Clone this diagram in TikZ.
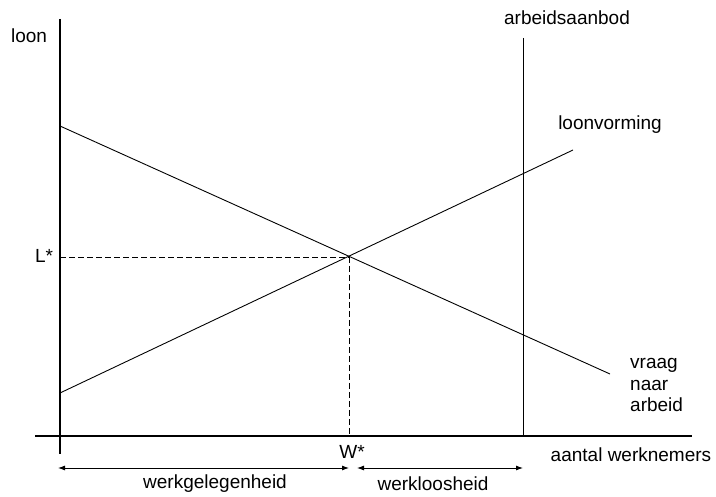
\documentclass[tikz,border=0pt]{standalone}
\usepackage{fontspec}
\setmainfont{Liberation Sans}
\usetikzlibrary{arrows.meta}

\begin{document}
\begin{tikzpicture}[x=1pt, y=-1pt, font=\fontsize{19}{21.5}\selectfont,
    lbl/.style={inner sep=0pt},
    curve/.style={line width=0.9pt},
    guide/.style={line width=0.9pt, dash pattern=on 6pt off 3pt},
    span/.style={line width=0.9pt, {Latex[length=7pt,width=5pt]}-{Latex[length=7pt,width=5pt]}}]
    \useasboundingbox (0,0) rectangle (716,497);

    % axes
    \coordinate (O) at (60,436);
    \coordinate (ytop) at (60,19);
    \coordinate (ybot) at (60,454);
    \coordinate (xleft) at (35,436);
    \coordinate (xright) at (692,436);
    \draw[line width=1.3pt] (ytop) -- (ybot);
    \draw[line width=1.3pt] (xleft) -- (xright);

    % curves
    \coordinate (D1) at (60,126);
    \coordinate (D2) at (610,374);
    \coordinate (S1) at (60,393);
    \coordinate (S2) at (573,150);
    \coordinate (A1) at (523,38);
    \coordinate (A2) at (523,436);
    \draw[curve] (D1) -- (D2);
    \draw[curve] (S1) -- (S2);
    \draw[curve] (A1) -- (A2);

    % equilibrium
    \coordinate (E) at (349,257);
    \coordinate (Ly) at (60,257);
    \coordinate (Wx) at (349,436);
    \draw[guide] (Ly) -- (E);
    \draw[guide] (E) -- (Wx);

    % labels
    \node[lbl] (loon) at (29,36) {loon};
    \node[lbl] (Lster) at (44,256) {L*};
    \node[lbl] (Wster) at (352,452) {W*};
    \node[lbl] (aanbod) at (567,18) {arbeidsaanbod};
    \node[lbl] (vorming) at (610,125) {loonvorming};
    \node[lbl, align=left, anchor=west] (vraag) at (630,385) {vraag\\naar\\arbeid};
    \node[lbl] (aantal) at (631,455) {aantal werknemers};

    % spans
    \coordinate (B1) at (58,468);
    \coordinate (B2) at (349,468);
    \coordinate (B3) at (357,468);
    \coordinate (B4) at (523,468);
    \draw[span] (B1) -- (B2);
    \draw[span] (B3) -- (B4);
    \node[lbl] (werk) at (215,484) {werkgelegenheid};
    \node[lbl] (loos) at (433,484) {werkloosheid};
\end{tikzpicture}
\end{document}
